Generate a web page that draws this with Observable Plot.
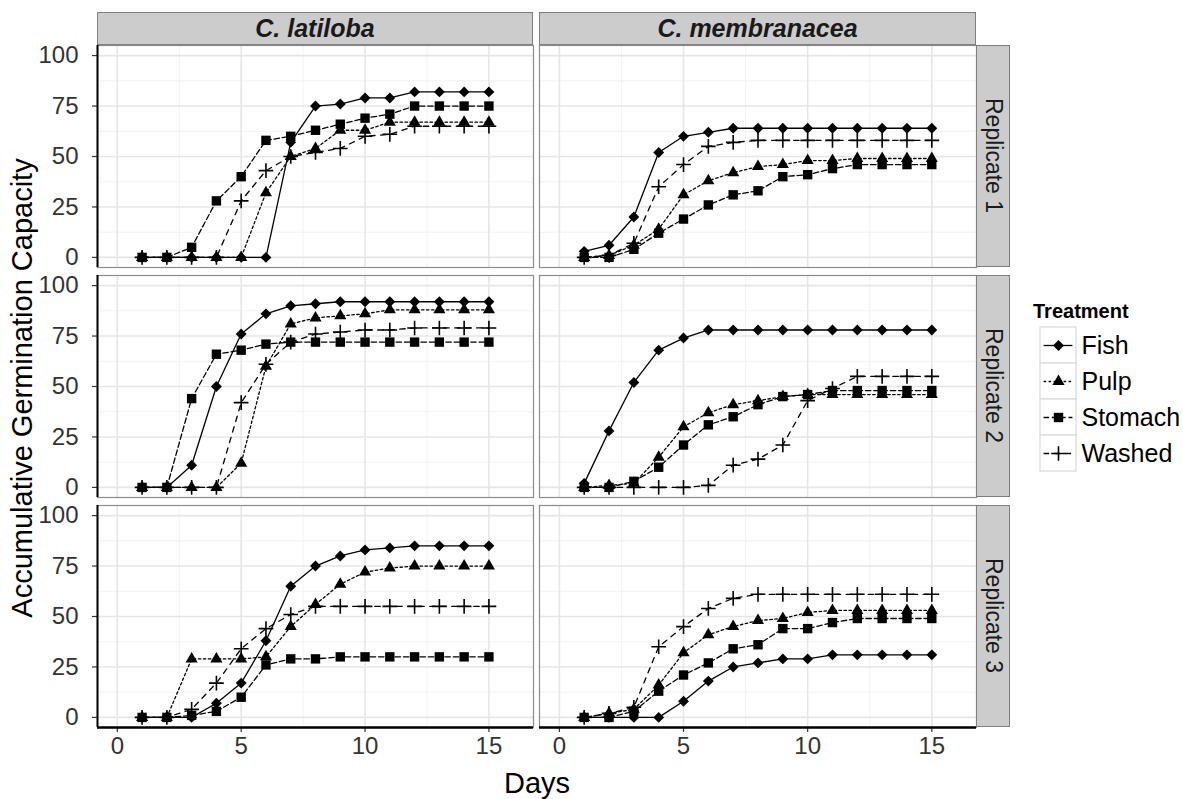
<!DOCTYPE html>
<html>
<head>
<meta charset="utf-8">
<script src="https://cdn.jsdelivr.net/npm/d3@7"></script>
<script src="https://cdn.jsdelivr.net/npm/@observablehq/plot@0.6"></script>
<style>
  body { margin: 0; background: #fff; font-family: "Liberation Sans", Arial, sans-serif; }
  #root { position: relative; width: 1183px; height: 799px; overflow: hidden; background: #fff; }
  .abs { position: absolute; }
  .strip-top { background: #cccccc; border: 1px solid #7f7f7f; box-sizing: border-box;
    display: flex; align-items: center; justify-content: center;
    font-weight: bold; font-style: italic; font-size: 25px; color: #1a1a1a; }
  .strip-right { background: #cccccc; border: 1px solid #7f7f7f; box-sizing: border-box;
    display: flex; align-items: center; justify-content: center; font-size: 23px; color: #1a1a1a; }
  .strip-right span { writing-mode: vertical-rl; }
  .title { color: #000; white-space: nowrap; }
</style>
</head>
<body>
<div id="root"></div>
<script>
// ---------- data ----------
const days = [1, 2, 3, 4, 5, 6, 7, 8, 9, 10, 11, 12, 13, 14, 15];
const speciesNames = ["C. latiloba", "C. membranacea"];
const replicateNames = ["Replicate 1", "Replicate 2", "Replicate 3"];
const treatments = ["Fish", "Pulp", "Stomach", "Washed"];
const xTicks = [0, 5, 10, 15];
const yTicks = [0, 25, 50, 75, 100];
const xMinor = [2.5, 7.5, 12.5];
const yMinor = [12.5, 37.5, 62.5, 87.5];

// C. latiloba
const latiloba_r1_fish    = [0, 0, 0, 0, 0, 0, 57, 75, 76, 79, 79, 82, 82, 82, 82];
const latiloba_r1_pulp    = [0, 0, 0, 0, 0, 32, 50, 54, 63, 63, 67, 67, 67, 67, 67];
const latiloba_r1_stomach = [0, 0, 5, 28, 40, 58, 60, 63, 66, 69, 71, 75, 75, 75, 75];
const latiloba_r1_washed  = [0, 0, 0, 0, 28, 43, 50, 52, 54, 60, 61, 65, 65, 65, 65];

const latiloba_r2_fish    = [0, 0, 11, 50, 76, 86, 90, 91, 92, 92, 92, 92, 92, 92, 92];
const latiloba_r2_pulp    = [0, 0, 0, 0, 12, 60, 81, 84, 85, 86, 88, 88, 88, 88, 88];
const latiloba_r2_stomach = [0, 0, 44, 66, 68, 71, 72, 72, 72, 72, 72, 72, 72, 72, 72];
const latiloba_r2_washed  = [0, 0, 0, 0, 42, 61, 72, 76, 77, 78, 78, 79, 79, 79, 79];

const latiloba_r3_fish    = [0, 0, 0, 7, 17, 38, 65, 75, 80, 83, 84, 85, 85, 85, 85];
const latiloba_r3_pulp    = [0, 0, 29, 29, 29, 30, 45, 56, 66, 72, 74, 75, 75, 75, 75];
const latiloba_r3_stomach = [0, 0, 1, 3, 10, 26, 29, 29, 30, 30, 30, 30, 30, 30, 30];
const latiloba_r3_washed  = [0, 0, 4, 17, 34, 44, 51, 55, 55, 55, 55, 55, 55, 55, 55];

// C. membranacea
const membranacea_r1_fish    = [3, 6, 20, 52, 60, 62, 64, 64, 64, 64, 64, 64, 64, 64, 64];
const membranacea_r1_pulp    = [0, 1, 6, 14, 31, 38, 42, 45, 46, 48, 48, 49, 49, 49, 49];
const membranacea_r1_stomach = [0, 0, 4, 12, 19, 26, 31, 33, 40, 41, 44, 46, 46, 46, 46];
const membranacea_r1_washed  = [0, 1, 7, 35, 46, 55, 57, 58, 58, 58, 58, 58, 58, 58, 58];

const membranacea_r2_fish    = [2, 28, 52, 68, 74, 78, 78, 78, 78, 78, 78, 78, 78, 78, 78];
const membranacea_r2_pulp    = [0, 1, 2, 15, 30, 37, 41, 43, 45, 46, 46, 46, 46, 46, 46];
const membranacea_r2_stomach = [0, 0, 3, 10, 21, 31, 35, 41, 45, 46, 48, 48, 48, 48, 48];
const membranacea_r2_washed  = [0, 0, 0, 0, 0, 1, 11, 14, 21, 43, 49, 55, 55, 55, 55];

const membranacea_r3_fish    = [0, 0, 0, 0, 8, 18, 25, 27, 29, 29, 31, 31, 31, 31, 31];
const membranacea_r3_pulp    = [0, 2, 4, 16, 32, 41, 45, 48, 49, 52, 53, 53, 53, 53, 53];
const membranacea_r3_stomach = [0, 0, 3, 13, 21, 27, 34, 36, 44, 44, 47, 49, 49, 49, 49];
const membranacea_r3_washed  = [0, 2, 5, 35, 45, 54, 59, 61, 61, 61, 61, 61, 61, 61, 61];

// table built from the arrays above
const series = [
  [latiloba_r1_fish, latiloba_r1_pulp, latiloba_r1_stomach, latiloba_r1_washed],
  [latiloba_r2_fish, latiloba_r2_pulp, latiloba_r2_stomach, latiloba_r2_washed],
  [latiloba_r3_fish, latiloba_r3_pulp, latiloba_r3_stomach, latiloba_r3_washed],
  [membranacea_r1_fish, membranacea_r1_pulp, membranacea_r1_stomach, membranacea_r1_washed],
  [membranacea_r2_fish, membranacea_r2_pulp, membranacea_r2_stomach, membranacea_r2_washed],
  [membranacea_r3_fish, membranacea_r3_pulp, membranacea_r3_stomach, membranacea_r3_washed]
];
const rows = [];
speciesNames.forEach((sp, si) => {
  replicateNames.forEach((rep, ri) => {
    treatments.forEach((t, ti) => {
      series[si * 3 + ri][ti].forEach((v, di) => {
        rows.push({species: sp, replicate: rep, treatment: t, day: days[di], value: v});
      });
    });
  });
});

// ---------- styles ----------
const symbolOf = {Fish: "diamond2", Pulp: "triangle", Stomach: "square", Washed: "plus"};
const dashOf = {Fish: null, Pulp: "2.5,2.5", Stomach: "5.5,2.8", Washed: "5.5,5.5"};
const radiusOf = {Fish: 4.9, Pulp: 4.5, Stomach: 5.3, Washed: 4.8};
const filledOf = {Fish: true, Pulp: true, Stomach: true, Washed: false};

const colX = [97, 539];
const colW = [436, 437];
const rowY = [45, 275, 505];
const rowH = 222;
const FONT = "'Liberation Sans', Arial, sans-serif";

const root = document.getElementById("root");
function place(el, left, top) {
  el.classList.add("abs");
  el.style.left = left + "px";
  el.style.top = top + "px";
  root.appendChild(el);
  return el;
}

function seriesMarks(data, t) {
  const d = data.filter(r => r.treatment === t);
  const marks = [
    Plot.line(d, {x: "day", y: "value", stroke: "#000", strokeWidth: 1.3,
      strokeDasharray: dashOf[t] || undefined})
  ];
  if (filledOf[t]) {
    marks.push(Plot.dot(d, {x: "day", y: "value", symbol: () => symbolOf[t], r: radiusOf[t],
      fill: "#000", stroke: "none"}));
  } else {
    marks.push(Plot.dot(d, {x: "day", y: "value", symbol: () => symbolOf[t], r: radiusOf[t],
      fill: "none", stroke: "#000", strokeWidth: 1.6}));
  }
  return marks;
}

speciesNames.forEach((sp, ci) => {
  replicateNames.forEach((rep, ri) => {
    const data = rows.filter(r => r.species === sp && r.replicate === rep);
    const left = ci === 0 ? 97 : 0;
    const bottom = ri === 2 ? 50 : 0;
    const marks = [
      Plot.gridX(xMinor, {stroke: "#f2f2f2", strokeOpacity: 1, strokeWidth: 1}),
      Plot.gridY(yMinor, {stroke: "#f2f2f2", strokeOpacity: 1, strokeWidth: 1}),
      Plot.gridX(xTicks, {stroke: "#e6e6e6", strokeOpacity: 1, strokeWidth: 1.6}),
      Plot.gridY(yTicks, {stroke: "#e6e6e6", strokeOpacity: 1, strokeWidth: 1.6}),
      Plot.frame({stroke: "#8c8c8c", strokeWidth: 1.2})
    ];
    treatments.forEach(t => marks.push(...seriesMarks(data, t)));
    if (ci === 0) {
      marks.push(Plot.axisY(yTicks, {label: null, tickSize: 5, tickPadding: 14, fontSize: 24,
        stroke: "#333", fill: "#333", strokeWidth: 1.2}));
      marks.push(Plot.ruleX([-0.8], {stroke: "#000", strokeWidth: 2}));
    }
    if (ri === 2) {
      marks.push(Plot.axisX(xTicks, {label: null, tickSize: 5, tickPadding: 4, fontSize: 24,
        stroke: "#333", fill: "#333", strokeWidth: 1.2}));
      marks.push(Plot.ruleY([-5], {stroke: "#000", strokeWidth: 2.5}));
    }
    const chart = Plot.plot({
      width: left + colW[ci],
      height: rowH + bottom,
      marginLeft: left, marginRight: 0, marginTop: 0, marginBottom: bottom,
      x: {domain: [-0.8, 16.8], axis: null, label: null},
      y: {domain: [-5, 105], axis: null, label: null},
      style: {fontFamily: FONT, background: "transparent", overflow: "visible", color: "#333"},
      marks
    });
    place(chart, ci === 0 ? 0 : 539, rowY[ri]);
  });
});

// strips (top)
speciesNames.forEach((sp, ci) => {
  const s = document.createElement("div");
  s.className = "strip-top";
  s.style.width = colW[ci] + "px";
  s.style.height = "33px";
  s.textContent = sp;
  place(s, colX[ci], 12);
});
// strips (right)
replicateNames.forEach((rep, ri) => {
  const s = document.createElement("div");
  s.className = "strip-right";
  s.style.width = "34px";
  s.style.height = rowH + "px";
  const span = document.createElement("span");
  span.textContent = rep;
  s.appendChild(span);
  place(s, 976, rowY[ri]);
});

// axis titles
const yt = document.createElement("div");
yt.className = "title";
yt.textContent = "Accumulative Germination Capacity";
yt.style.fontSize = "29px";
yt.style.transform = "translate(-50%,-50%) rotate(-90deg)";
place(yt, 22, 388);

const xt = document.createElement("div");
xt.className = "title";
xt.textContent = "Days";
xt.style.fontSize = "29px";
xt.style.transform = "translate(-50%,-50%)";
place(xt, 537, 783);

// legend
const lt = document.createElement("div");
lt.className = "title";
lt.textContent = "Treatment";
lt.style.fontSize = "20px";
lt.style.fontWeight = "bold";
place(lt, 1033, 300);

const legendMarks = [
  Plot.barX(treatments, {x1: 0, x2: 1, y: d => d, fill: "#fff", stroke: "#d9d9d9", strokeWidth: 1.2})
];
treatments.forEach(t => {
  legendMarks.push(Plot.ruleY([t], {y: d => d, x1: 0.1, x2: 0.9, stroke: "#000", strokeWidth: 1.3,
    strokeDasharray: dashOf[t] || undefined}));
  legendMarks.push(Plot.dot([t], {x: 0.5, y: d => d, symbol: () => symbolOf[t], r: radiusOf[t],
    fill: filledOf[t] ? "#000" : "none", stroke: filledOf[t] ? "none" : "#000", strokeWidth: 1.6}));
});
legendMarks.push(Plot.text(treatments, {x: 1, y: d => d, text: d => d, dx: 5, textAnchor: "start",
  fontSize: 25, fill: "#000"}));
const legend = Plot.plot({
  width: 150, height: 147,
  marginLeft: 1, marginRight: 0, marginTop: 1, marginBottom: 0,
  x: {domain: [0, 1], range: [1, 37], axis: null},
  y: {type: "band", domain: treatments, padding: 0, axis: null},
  style: {fontFamily: FONT, background: "transparent", overflow: "visible"},
  marks: legendMarks
});
place(legend, 1039, 325);
</script>
</body>
</html>
